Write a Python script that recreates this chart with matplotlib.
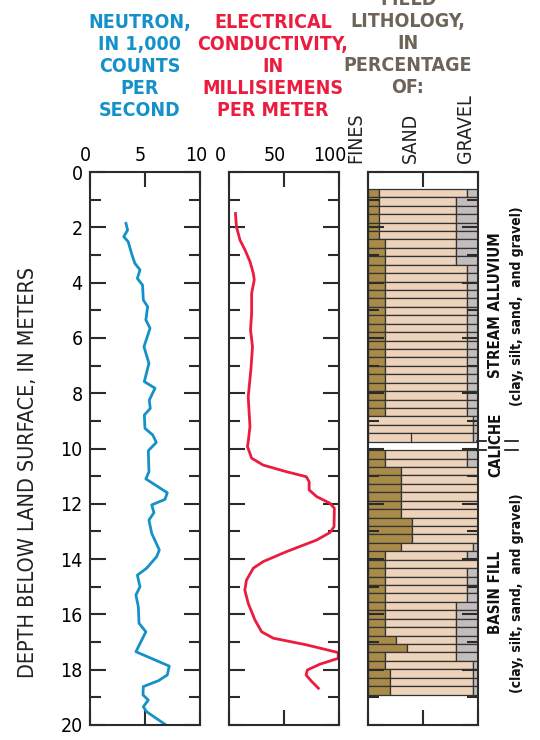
import numpy as np
import matplotlib
matplotlib.use("Agg")
import matplotlib.pyplot as plt
import matplotlib.transforms as mtransforms
from matplotlib.ticker import MultipleLocator

plt.rcParams["font.family"] = ["DejaVu Sans"]
plt.rcParams["font.stretch"] = "condensed"

# Neutron log (depth in m, 1,000 counts per second)
neu_depth = [1.86, 2.10, 2.34, 2.52, 2.94, 3.30, 3.54, 3.85, 4.09, 4.63, 4.87, 5.35,
             5.65, 6.32, 6.92, 7.58, 7.82, 8.25, 8.55, 8.79, 9.27, 9.51, 9.78, 10.08,
             10.84, 11.10, 11.60, 11.84, 12.04, 12.32, 12.59, 13.07, 13.67, 13.91,
             14.33, 14.58, 15.00, 15.30, 15.72, 16.32, 16.63, 17.35, 17.87, 18.19,
             18.40, 18.61, 18.91, 19.10, 19.34, 19.52, 20.00]
neu_val = [3.3, 3.45, 3.1, 3.5, 3.8, 4.1, 4.57, 4.33, 4.8, 4.87, 5.26, 5.1,
           5.48, 4.93, 5.38, 4.96, 5.93, 5.41, 5.5, 4.96, 5.02, 5.72, 6.05, 5.32,
           5.38, 5.1, 7.04, 6.83, 5.63, 5.83, 5.38, 5.63, 6.32, 6.08,
           5.17, 4.33, 4.57, 4.2, 4.42, 4.48, 5.1, 4.2, 7.22, 7.04,
           6.23, 4.87, 4.84, 5.32, 4.87, 5.17, 6.92]

# Electrical conductivity log (depth in m, mS/m)
ec_depth = [1.50, 1.98, 2.46, 2.82, 3.24, 3.66, 3.90, 4.39, 5.11, 5.71, 6.32, 7.16,
            8.13, 9.21, 9.75, 9.93, 10.35, 10.60, 10.84, 11.02, 11.20, 11.50, 11.74,
            11.98, 12.16, 12.83, 13.04, 13.31, 13.73, 14.09, 14.33, 14.76, 15.12,
            15.60, 16.20, 16.63, 16.86, 17.10, 17.38, 17.59, 17.80, 18.01, 18.19,
            18.43, 18.67]
ec_val = [5.6, 6.5, 9.7, 14.3, 18.8, 21.8, 22.7, 20.3, 20.3, 19.3, 21.1, 19.6,
          17.2, 18.8, 17.2, 16.5, 20.3, 30.8, 52, 70, 72.6, 72.6, 79.4,
          91.5, 95.5, 95.2, 91.5, 79.4, 52, 30.8, 21.8, 15.6, 14.1,
          17.2, 23.3, 29.4, 40, 70, 99, 99, 82.4, 71, 69.8,
          75, 81]

# Field lithology, intervals in feet, percentages
litho_top_ft = [2, 3, 8, 11, 29, 33, 35, 41, 44, 45, 46, 47, 51, 55, 56, 57, 58, 59]
litho_bot_ft = [3, 8, 11, 29, 32, 35, 41, 44, 45, 46, 47, 51, 55, 56, 57, 58, 59, 62]
fines_pct = [10, 10, 15, 15, 0, 15, 30, 40, 30, 15, 15, 15, 15, 25, 35, 15, 15, 20]
gravel_pct = [10, 20, 20, 10, 5, 10, 0, 0, 5, 10, 0, 10, 20, 20, 20, 20, 5, 5]
sand_pct = [100 - f - g for f, g in zip(fines_pct, gravel_pct)]

units = ["STREAM ALLUVIUM", "CALICHE", "BASIN FILL"]
unit_desc = ["(clay, silt, sand,  and gravel)", "", "(clay, silt, sand,  and gravel)"]
unit_label_depth = [4.81, 9.87, 15.2]
caliche_top, caliche_bot = 9.74, 10.05

blue = "#1591C9"
red = "#EC1C3F"
brown_txt = "#6E6359"
fines_c = "#A88B48"
sand_c = "#EDD3BA"
gravel_c = "#C4BDBD"
frame = "#2b2b2b"

fig = plt.figure(figsize=(5.4, 7.4), dpi=100)
W, H = 540, 740
bottom = 1 - 725 / H
height = 553 / H
ax1 = fig.add_axes([89.5 / W, bottom, 110.5 / W, height])
ax2 = fig.add_axes([229.3 / W, bottom, 110 / W, height], sharey=ax1)
ax3 = fig.add_axes([368.3 / W, bottom, 110 / W, height], sharey=ax1)

for ax in (ax1, ax2, ax3):
    for s in ax.spines.values():
        s.set_linewidth(1.5)
        s.set_color(frame)
    ax.yaxis.set_major_locator(MultipleLocator(2))
    ax.yaxis.set_minor_locator(MultipleLocator(1))
    ax.tick_params(axis="y", which="major", direction="in", left=True, right=True,
                   length=11.5, width=1.5, color=frame, labelsize=14, pad=5)
    ax.tick_params(axis="y", which="minor", direction="in", left=True, right=True,
                   length=8, width=1.5, color=frame)
    ax.tick_params(axis="x", direction="in", top=True, bottom=True, labeltop=True,
                   labelbottom=False, length=11, width=1.5, color=frame,
                   labelsize=14, pad=5)
ax1.set_ylim(20, 0)
ax2.tick_params(axis="y", labelleft=False)
ax3.tick_params(axis="y", labelleft=False)

# neutron
ax1.plot(neu_val, neu_depth, color=blue, lw=2.0, solid_joinstyle="round")
ax1.set_xlim(0, 10)
ax1.set_xticks([0, 5, 10])

# conductivity
ax2.plot(ec_val, ec_depth, color=red, lw=2.0, solid_joinstyle="round")
ax2.set_xlim(0, 100)
ax2.set_xticks([0, 50, 100])

for ax, dx in ((ax1, -4), (ax2, -9)):
    off = mtransforms.ScaledTranslation(dx / 100, 0, fig.dpi_scale_trans)
    for lab in ax.get_xticklabels():
        lab.set_transform(lab.get_transform() + off)

# lithology, one row per foot
ft = 0.3048
for t, b, f, s, g in zip(litho_top_ft, litho_bot_ft, fines_pct, sand_pct, gravel_pct):
    for k in range(t, b):
        yc = (k + 0.5) * ft
        kw = dict(height=ft, edgecolor="#333333", linewidth=0.9, zorder=1)
        ax3.barh(yc, f, left=0, color=fines_c, **kw)
        ax3.barh(yc, s, left=f, color=sand_c, **kw)
        ax3.barh(yc, g, left=f + s, color=gravel_c, **kw)
ax3.plot([38.5, 38.5], [31 * ft, 32 * ft], color="#333333", lw=0.9)
ax3.set_xlim(0, 100)
ax3.set_xticks([0, 50, 100])
ax3.tick_params(axis="x", labeltop=False)
blend = mtransforms.blended_transform_factory(ax3.transData, ax3.transAxes)
for xv, name in zip([0, 50, 100], ["FINES", "SAND", "GRAVEL"]):
    ax3.text(xv - 3, 1.017, name, transform=blend, rotation=90, ha="right",
             va="bottom", fontsize=14, color="#222222")

# unit labels
btr = mtransforms.blended_transform_factory(fig.transFigure, ax3.transData)
for name, desc, d in zip(units, unit_desc, unit_label_depth):
    ax3.text(496 / W, d, name, transform=btr, rotation=90, ha="center", va="center",
             fontsize=10.8, fontweight="bold", color="#111111")
    if desc:
        ax3.text(517 / W, d + 0.05, desc, transform=btr, rotation=90, ha="center",
                 va="center", fontsize=10, fontweight="bold", color="#111111")
for d in (caliche_top, caliche_bot):
    for x0, x1 in ((477, 486), (505, 518)):
        ax3.plot([x0 / W, x1 / W], [d, d], transform=btr, color="#111111", lw=1.2,
                 clip_on=False)

# titles
tkw = dict(ha="center", va="top", fontsize=14, fontweight="bold", linespacing=1.2)
fig.text(140 / W, 1 - 13 / H, "NEUTRON,\nIN 1,000\nCOUNTS\nPER\nSECOND",
         color=blue, **tkw)
fig.text(273 / W, 1 - 13 / H, "ELECTRICAL\nCONDUCTIVITY,\nIN\nMILLISIEMENS\nPER METER",
         color=red, **tkw)
fig.text(408 / W, 1 + 10 / H, "FIELD\nLITHOLOGY,\nIN\nPERCENTAGE\nOF:",
         color=brown_txt, **tkw)

fig.text(28 / W, 1 - 472 / H, "DEPTH BELOW LAND SURFACE, IN METERS", rotation=90,
         ha="center", va="center", fontsize=15.5, color="#222222")

fig.savefig("out.png", dpi=100)
